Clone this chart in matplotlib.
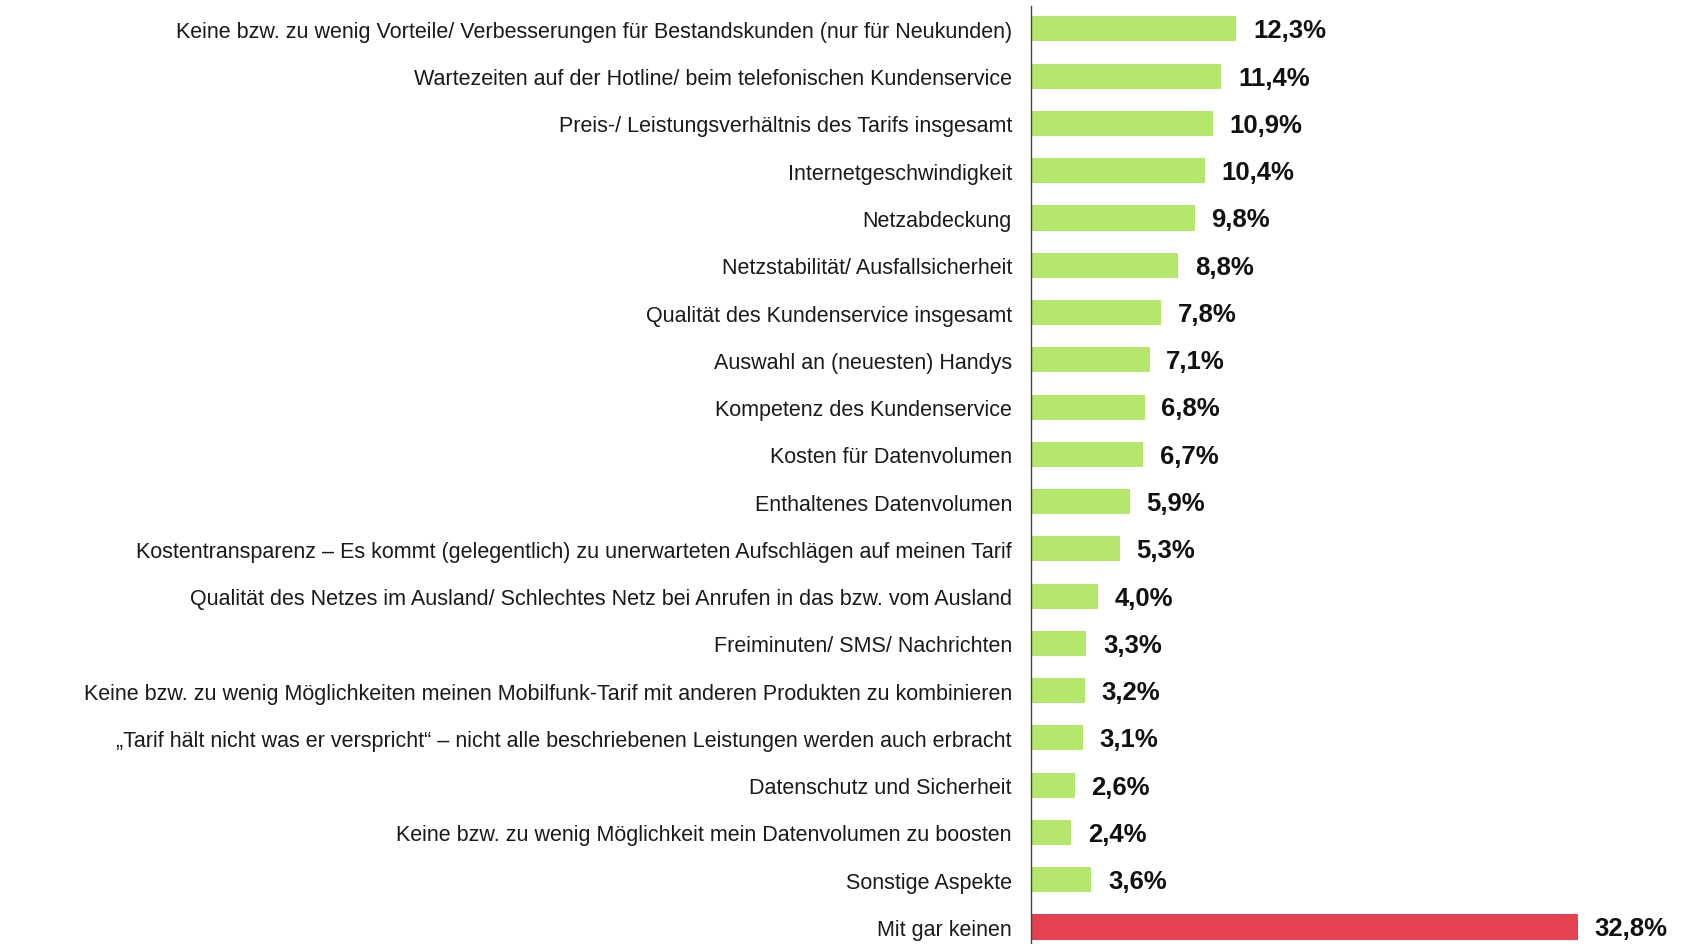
import matplotlib
matplotlib.use("Agg")
import matplotlib.pyplot as plt

plt.rcParams["font.family"] = ["Liberation Sans", "DejaVu Sans"]

categories = [
    "Keine bzw. zu wenig Vorteile/ Verbesserungen für Bestandskunden (nur für Neukunden)",
    "Wartezeiten auf der Hotline/ beim telefonischen Kundenservice",
    "Preis-/ Leistungsverhältnis des Tarifs insgesamt",
    "Internetgeschwindigkeit",
    "Netzabdeckung",
    "Netzstabilität/ Ausfallsicherheit",
    "Qualität des Kundenservice insgesamt",
    "Auswahl an (neuesten) Handys",
    "Kompetenz des Kundenservice",
    "Kosten für Datenvolumen",
    "Enthaltenes Datenvolumen",
    "Kostentransparenz \u2013 Es kommt (gelegentlich) zu unerwarteten Aufschlägen auf meinen Tarif",
    "Qualität des Netzes im Ausland/ Schlechtes Netz bei Anrufen in das bzw. vom Ausland",
    "Freiminuten/ SMS/ Nachrichten",
    "Keine bzw. zu wenig Möglichkeiten meinen Mobilfunk-Tarif mit anderen Produkten zu kombinieren",
    "\u201eTarif hält nicht was er verspricht\u201c \u2013 nicht alle beschriebenen Leistungen werden auch erbracht",
    "Datenschutz und Sicherheit",
    "Keine bzw. zu wenig Möglichkeit mein Datenvolumen zu boosten",
    "Sonstige Aspekte",
    "Mit gar keinen",
]
values = [12.3, 11.4, 10.9, 10.4, 9.8, 8.8, 7.8, 7.1, 6.8, 6.7,
          5.9, 5.3, 4.0, 3.3, 3.2, 3.1, 2.6, 2.4, 3.6, 32.8]

GREEN = "#b3e66b"
RED = "#e54251"
colors = [GREEN] * (len(values) - 1) + [RED]

fig = plt.figure(figsize=(16.88, 9.45), dpi=100)
fig.patch.set_facecolor("white")
ax = fig.add_axes([0.611, 0.0, 0.389, 0.9926])

y = list(range(len(categories)))
bars = ax.barh(y, values, height=0.53, color=colors, edgecolor="none")

ax.set_ylim(19.36, -0.486)
ax.set_xlim(0, 39.4)
ax.set_yticks(y)
ax.set_yticklabels(categories, fontsize=15.5, color="#1a1a1a")
ax.tick_params(axis="y", length=0, pad=14)
ax.set_xticks([])

for side in ["top", "right", "bottom"]:
    ax.spines[side].set_visible(False)
ax.spines["left"].set_color("#444444")
ax.spines["left"].set_linewidth(1.0)

for bar, val in zip(bars, values):
    ax.annotate(f"{val:.1f}%".replace(".", ","),
                (bar.get_width(), bar.get_y() + bar.get_height() / 2),
                xytext=(12, -1), textcoords="offset points",
                ha="left", va="center", fontsize=18.5, fontweight="bold", color="#111111")

fig.savefig("out.png", dpi=100, facecolor="white")
